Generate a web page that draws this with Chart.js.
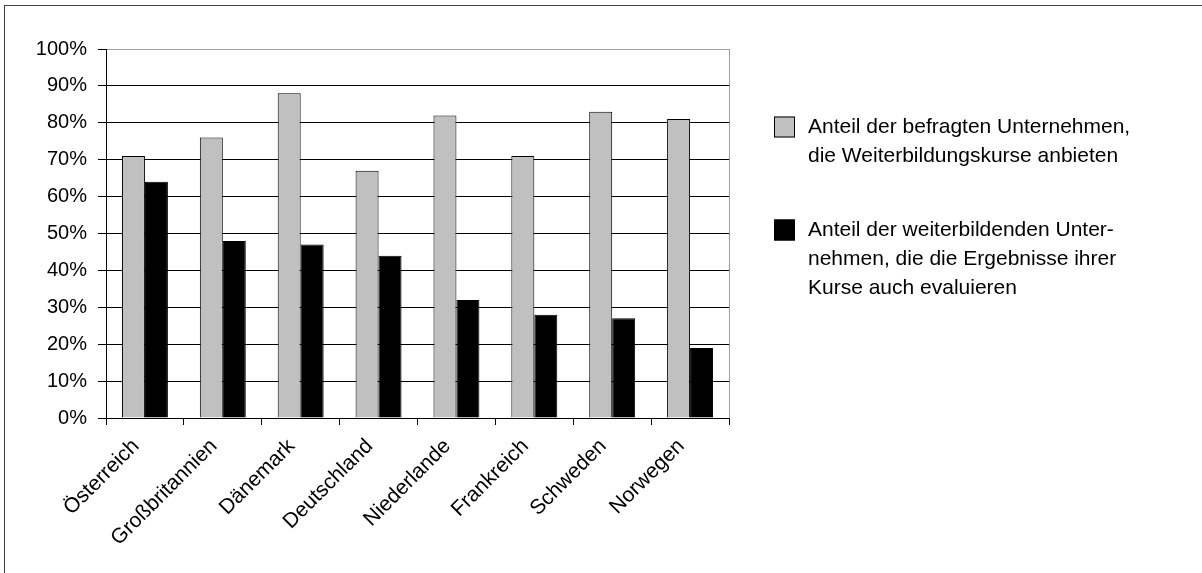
<!DOCTYPE html>
<html>
<head>
<meta charset="utf-8">
<script src="https://cdn.jsdelivr.net/npm/chart.js@4/dist/chart.umd.min.js"></script>
<style>
  html, body { margin: 0; padding: 0; background: #fff; }
  #wrap { width: 1202px; height: 573px; position: relative; }
</style>
</head>
<body>
<div id="wrap"><canvas id="c" width="1202" height="573"></canvas></div>
<script>
// Länder
const countries = ['Österreich', 'Großbritannien', 'Dänemark', 'Deutschland', 'Niederlande', 'Frankreich', 'Schweden', 'Norwegen'];

// Anteil der befragten Unternehmen, die Weiterbildungskurse anbieten (%)
const offering = [71, 76, 88, 67, 82, 71, 83, 81];

// Anteil der weiterbildenden Unternehmen, die die Ergebnisse ihrer Kurse auch evaluieren (%)
const evaluating = [64, 48, 47, 44, 32, 28, 27, 19];

// Legendentexte (zeilenweise)
const offeringLabel = ['Anteil der befragten Unternehmen,', 'die Weiterbildungskurse anbieten'];
const evaluatingLabel = ['Anteil der weiterbildenden Unter-', 'nehmen, die die Ergebnisse ihrer', 'Kurse auch evaluieren'];

// y-Achse
const yMin = 0, yMax = 100, yStep = 10;

const FONT = "'Liberation Sans', Arial, sans-serif";

// Rahmen, rechte Plotkante und mehrzeilige Legende
const decor = {
  id: 'decor',
  beforeDraw(chart) {
    const ctx = chart.ctx;
    ctx.save();
    ctx.fillStyle = '#fff';
    ctx.fillRect(0, 0, chart.width, chart.height);
    ctx.fillStyle = '#404040';
    ctx.fillRect(4, 5, chart.width - 4, 1);
    ctx.fillRect(4, 5, 1, chart.height - 5);
    ctx.restore();
  },
  afterDatasetsDraw(chart) {
    const ctx = chart.ctx;
    const a = chart.chartArea;
    ctx.save();
    ctx.strokeStyle = '#a0a0a0';
    ctx.lineWidth = 1;
    ctx.beginPath();
    ctx.moveTo(Math.round(a.right) + 0.5, a.top);
    ctx.lineTo(Math.round(a.right) + 0.5, a.bottom);
    ctx.stroke();

    // Legende
    const entries = chart.data.datasets.map(ds => ({ lines: ds.legendLines, fill: ds.backgroundColor }));
    const boxX = 774, textX = 808, box = 21, lineH = 29;
    const firstY = [127, 230];
    ctx.font = '21px ' + FONT;
    ctx.textBaseline = 'middle';
    ctx.textAlign = 'left';
    entries.forEach((e, i) => {
      const y0 = firstY[i];
      ctx.fillStyle = e.fill;
      ctx.fillRect(boxX, y0 - box / 2, box, box);
      ctx.strokeStyle = '#000';
      ctx.lineWidth = 1;
      ctx.strokeRect(boxX + 0.5, y0 - box / 2 + 0.5, box - 1, box - 1);
      ctx.fillStyle = '#000';
      e.lines.forEach((t, k) => ctx.fillText(t, textX, y0 + k * lineH));
    });
    ctx.restore();
  }
};

new Chart(document.getElementById('c'), {
  type: 'bar',
  data: {
    labels: countries,
    datasets: [
      {
        label: offeringLabel.join(' '),
        legendLines: offeringLabel,
        data: offering,
        backgroundColor: '#c0c0c0',
        borderColor: '#000',
        borderWidth: 1,
        categoryPercentage: 0.59,
        barPercentage: 1.0
      },
      {
        label: evaluatingLabel.join(' '),
        legendLines: evaluatingLabel,
        data: evaluating,
        backgroundColor: '#000',
        borderColor: '#000',
        borderWidth: 1,
        categoryPercentage: 0.59,
        barPercentage: 1.0
      }
    ]
  },
  options: {
    responsive: false,
    animation: false,
    layout: { padding: { top: 49, right: 473, bottom: 0, left: 0 } },
    plugins: {
      legend: { display: false },
      tooltip: { enabled: false }
    },
    scales: {
      x: {
        grid: {
          drawOnChartArea: false,
          drawTicks: true,
          tickLength: 7,
          color: '#000',
          offset: true
        },
        border: { color: '#000', width: 1 },
        ticks: {
          autoSkip: false,
          minRotation: 45,
          maxRotation: 45,
          padding: 9,
          labelOffset: -9,
          color: '#000',
          font: { family: FONT, size: 21 }
        },
        afterFit(scale) { scale.height = 155; }
      },
      y: {
        min: yMin,
        max: yMax,
        grid: {
          color: c => (c.tick && c.tick.value === yMax ? '#a0a0a0' : '#000'),
          tickColor: '#000',
          tickLength: 8,
          lineWidth: 1
        },
        border: { color: '#000', width: 1 },
        ticks: {
          stepSize: yStep,
          padding: 11,
          color: '#000',
          font: { family: FONT, size: 20 },
          callback: v => v + '%'
        },
        afterFit(scale) { scale.width = 106; }
      }
    }
  },
  plugins: [decor]
});
</script>
</body>
</html>
